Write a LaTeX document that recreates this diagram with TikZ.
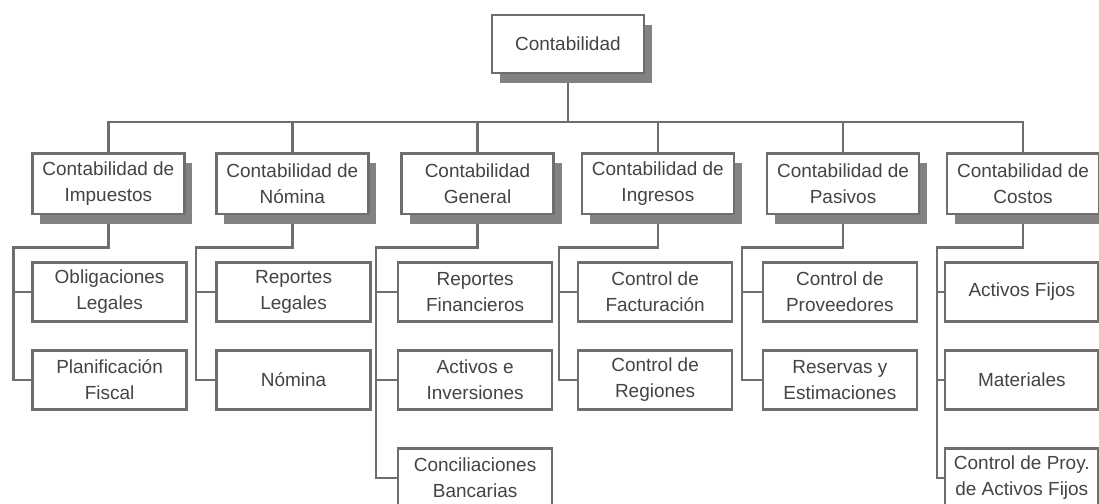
\documentclass[tikz,border=0pt]{standalone}
\usepackage{fontspec}
\setmainfont{Liberation Sans}
\usepackage{tikz}
\usetikzlibrary{shadows}
\usetikzlibrary{backgrounds}
\definecolor{tinta}{RGB}{68, 68, 68}
\definecolor{linea}{RGB}{110, 110, 110}
\definecolor{sombra}{RGB}{130, 130, 130}

\begin{document}
\begin{tikzpicture}[
        caja/.style={draw=linea, line width=1.9pt, fill=white, text=tinta, align=center,
                     inner sep=0pt, font=\fontsize{13.5}{18.5}\selectfont},
        jefe/.style={caja, minimum width=3.80cm, minimum height=1.52cm,
                     drop shadow={shadow xshift=0.20cm, shadow yshift=-0.25cm, fill=sombra, opacity=1}},
        hoja/.style={caja, minimum width=3.85cm, minimum height=1.48cm},
        rama/.style={draw=linea, line width=1.9pt}]
            \useasboundingbox (0.00, 0.00) rectangle (27.48,-12.60);
            % raiz y primer nivel
            \node[jefe, minimum height=1.45cm] (top) at (14.20,-1.10) {Contabilidad};
            \node[jefe] (imp) at ( 2.71,-4.59) {Contabilidad de\\Impuestos};
            \node[jefe] (nom) at ( 7.31,-4.59) {Contabilidad de\\Nómina};
            \node[jefe] (gen) at (11.94,-4.59) {Contabilidad\\General};
            \node[jefe] (ing) at (16.45,-4.59) {Contabilidad de\\Ingresos};
            \node[jefe] (pas) at (21.08,-4.59) {Contabilidad de\\Pasivos};
            \node[jefe] (cos) at (25.58,-4.59) {Contabilidad de\\Costos};
            % segundo nivel
            \node[hoja] (obl) at ( 2.74,-7.30) {Obligaciones\\Legales};
            \node[hoja] (pla) at ( 2.74,-9.50) {Planificación\\Fiscal};
            \node[hoja] (rle) at ( 7.34,-7.30) {Reportes\\Legales};
            \node[hoja] (nmn) at ( 7.34,-9.50) {Nómina};
            \node[hoja] (rfi) at (11.88,-7.30) {Reportes\\Financieros};
            \node[hoja] (act) at (11.88,-9.50) {Activos e\\Inversiones};
            \node[hoja] (con) at (11.88,-11.95) {Conciliaciones\\Bancarias};
            \node[hoja] (fac) at (16.38,-7.30) {Control de\\Facturación};
            \node[hoja] (reg) at (16.38,-9.50) {Control de\\Regiones};
            \node[hoja] (pro) at (21.00,-7.30) {Control de\\Proveedores};
            \node[hoja] (res) at (21.00,-9.50) {Reservas y\\Estimaciones};
            \node[hoja] (afi) at (25.55,-7.30) {Activos Fijos};
            \node[hoja] (mat) at (25.55,-9.50) {Materiales};
            \node[hoja] (cpa) at (25.55,-11.95) {Control de Proy.\\de Activos Fijos};
            % lineas de mando
            \coordinate (barra) at (0.00,-3.05);
            \coordinate (codo1) at ( 0.33,-6.18);
            \coordinate (codo2) at ( 4.90,-6.18);
            \coordinate (codo3) at ( 9.40,-6.18);
            \coordinate (codo4) at (13.98,-6.18);
            \coordinate (codo5) at (18.55,-6.18);
            \coordinate (codo6) at (23.43,-6.18);
            \begin{scope}[on background layer]
                \foreach \n in {imp,nom,gen,ing,pas,cos}
                    \draw[rama] (top.south) |- (barra -| \n.north) -- (\n.north);
                \foreach \p/\c/\h in {imp/1/obl, imp/1/pla, nom/2/rle, nom/2/nmn,
                                      gen/3/rfi, gen/3/act, gen/3/con, ing/4/fac, ing/4/reg,
                                      pas/5/pro, pas/5/res, cos/6/afi, cos/6/mat, cos/6/cpa}
                    \draw[rama] (\p.south) |- (codo\c) |- (\h.west);
            \end{scope}
        \end{tikzpicture}
\end{document}
